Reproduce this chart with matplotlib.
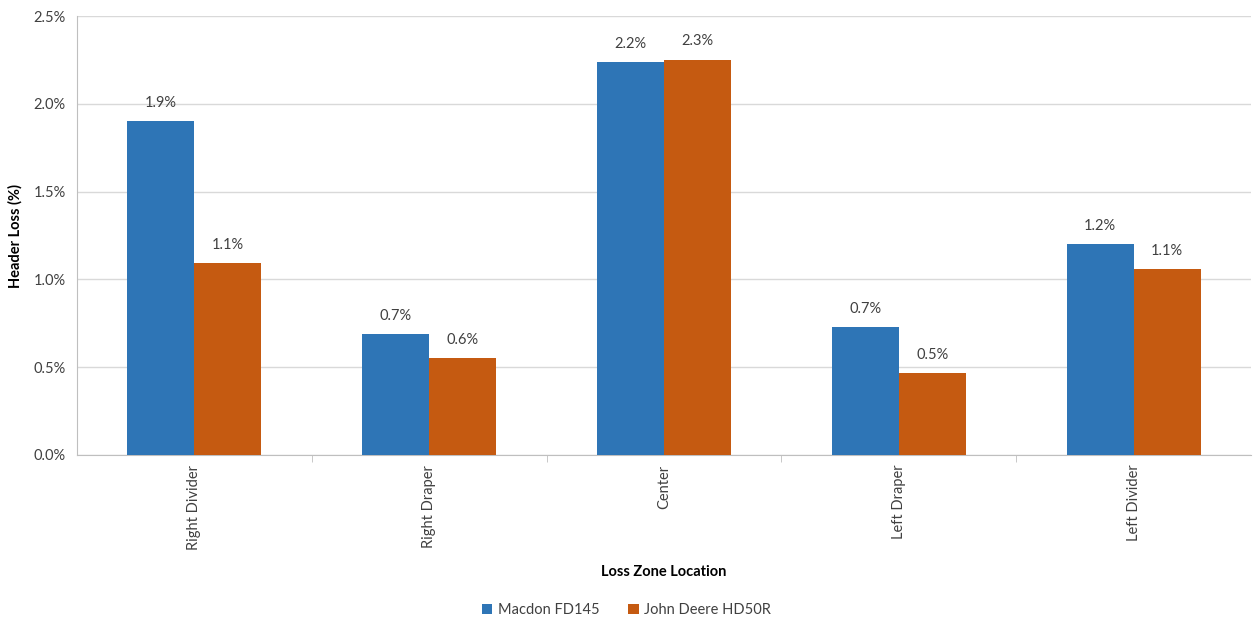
import matplotlib
matplotlib.use("Agg")
import matplotlib.pyplot as plt
import numpy as np
from matplotlib.ticker import FuncFormatter, FixedLocator

categories = ["Right Divider", "Right Draper", "Center", "Left Draper", "Left Divider"]
macdon = [1.90, 0.69, 2.24, 0.73, 1.20]
deere = [1.095, 0.553, 2.252, 0.467, 1.06]
series_names = ["Macdon FD145", "John Deere HD50R"]

plt.rcParams['font.family'] = ['Lato', 'DejaVu Sans']
fs = 10.5

fig = plt.figure(figsize=(12.53, 6.2), dpi=100)
ax = fig.add_axes([77/1253, (620-455)/620, (1251-77)/1253, (455-16)/620])

x = np.arange(len(categories))
w = 0.285
b1 = ax.bar(x - w/2, macdon, w, color="#2E75B6", label=series_names[0], zorder=3)
b2 = ax.bar(x + w/2, deere, w, color="#C55A11", label=series_names[1], zorder=3)

for bars, vals in ((b1, macdon), (b2, deere)):
    for r, v in zip(bars, vals):
        ax.annotate(f"{v:.1f}%", (r.get_x() + r.get_width()/2, v), xytext=(0, 8),
                    textcoords="offset points", ha="center", va="bottom",
                    fontsize=fs, color="#404040")

ax.set_xlim(-0.5, len(categories) - 0.5)
ax.set_ylim(0, 2.5)
ax.set_yticks(np.arange(0, 2.51, 0.5))
ax.yaxis.set_major_formatter(FuncFormatter(lambda v, p: f"{v:.1f}%"))
ax.grid(axis="y", color="#D9D9D9", linewidth=1, zorder=0)

ax.set_xticks(x)
ax.set_xticklabels(categories, rotation=90, fontsize=fs, color="#404040")
ax.tick_params(axis="x", which="major", length=0, pad=7)
ax.xaxis.set_minor_locator(FixedLocator(np.arange(0.5, len(categories) - 0.5, 1)))
ax.tick_params(axis="x", which="minor", length=5, color="#BFBFBF", direction="out")
ax.tick_params(axis="y", length=0, labelsize=fs, labelcolor="#404040", pad=8)

for s in ["top", "right"]:
    ax.spines[s].set_visible(False)
ax.spines["left"].set_color("#BFBFBF")
ax.spines["bottom"].set_color("#BFBFBF")

ax.set_ylabel("Header Loss (%)", fontsize=fs, fontweight="bold", color="#000000", labelpad=8)
ax.set_xlabel("Loss Zone Location", fontsize=fs, fontweight="bold", color="#000000", labelpad=11)

fig.legend(handles=[b1, b2], labels=series_names, loc="center", bbox_to_anchor=(0.5, (620-610)/620),
           ncol=2, frameon=False, fontsize=fs, handlelength=0.7, handleheight=0.7,
           columnspacing=2.0, handletextpad=0.4, labelcolor="#404040")

fig.savefig("out.png", dpi=100)
